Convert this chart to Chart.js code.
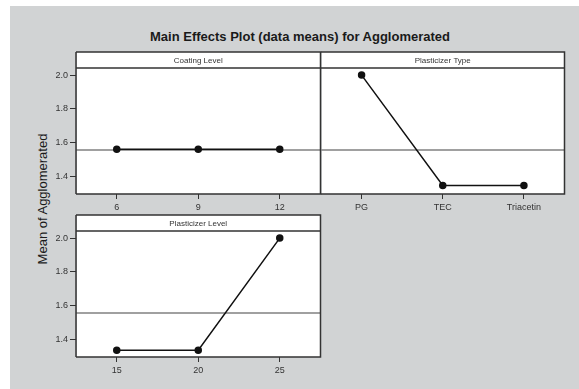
<!DOCTYPE html>
<html>
<head>
<meta charset="utf-8">
<script src="https://cdn.jsdelivr.net/npm/chart.js@4.4.1/dist/chart.umd.min.js"></script>
<style>
  html, body { margin: 0; padding: 0; background: #fff; }
  body { width: 579px; height: 389px; position: relative; overflow: hidden; font-family: "Liberation Sans", Arial, sans-serif; }
  #bg { position: absolute; left: 10px; top: 6px; width: 569px; height: 383px; background: #d1d3d4; }
  #title { position: absolute; left: 0; width: 600px; top: 29px; text-align: center; font-size: 13px; font-weight: bold; color: #1a1a1a; }
  #ylabel { position: absolute; left: 42px; top: 199px; transform: translate(-50%, -50%) rotate(-90deg); white-space: nowrap; font-size: 13px; color: #1a1a1a; }
  canvas { position: absolute; }
</style>
</head>
<body>
<div id="bg"></div>
<div id="title">Main Effects Plot (data means) for Agglomerated</div>
<div id="ylabel">Mean of Agglomerated</div>
<canvas id="coating"></canvas>
<canvas id="ptype"></canvas>
<canvas id="plevel"></canvas>
<script>
// dữ liệu
const coatingLevels = ['6', '9', '12'];
const coatingMeans = [1.56, 1.56, 1.56];
const plasticizerTypes = ['PG', 'TEC', 'Triacetin'];
const typeMeans = [2.0, 1.345, 1.345];
const plasticizerLevels = ['15', '20', '25'];
const levelMeans = [1.335, 1.335, 2.0];
const yTicks = [1.4, 1.6, 1.8, 2.0];
const grandMean = 1.556;
const yMin = 1.295, yMax = 2.042;

// khung vẽ
const PAD_L = 40, PAD_T = 20, PAD_R = 4, PAD_B = 24, STRIP_H = 16;

Chart.defaults.font.family = '"Liberation Sans", Arial, Helvetica, sans-serif';

const stripPlugin = {
    id: 'strip',
    beforeDraw(chart) {
        const { ctx, chartArea: a } = chart;
        ctx.save();
        ctx.fillStyle = '#fff';
        ctx.fillRect(a.left + 1, a.top - STRIP_H, a.width - 1, a.height + STRIP_H);
        ctx.restore();
    },
    beforeDatasetsDraw(chart) {
        const { ctx, chartArea: a, scales: { y } } = chart;
        const ym = y.getPixelForValue(grandMean);
        ctx.save();
        ctx.strokeStyle = '#808080';
        ctx.lineWidth = 1.3;
        ctx.beginPath();
        ctx.moveTo(a.left, ym);
        ctx.lineTo(a.right, ym);
        ctx.stroke();
        ctx.restore();
    },
    afterDraw(chart, args, opts) {
        const { ctx, chartArea: a } = chart;
        const top = a.top - STRIP_H;
        ctx.save();
        ctx.strokeStyle = '#333';
        ctx.lineWidth = 1.5;
        ctx.beginPath();
        // trái (bỏ qua nếu dùng chung cạnh với ô bên trái)
        if (!opts.sharedLeft) {
            ctx.moveTo(a.left, a.bottom);
            ctx.lineTo(a.left, top);
        }
        ctx.moveTo(a.left, top);
        ctx.lineTo(a.right, top);
        ctx.lineTo(a.right, a.bottom);
        ctx.lineTo(a.left, a.bottom);
        ctx.moveTo(a.left, a.top);
        ctx.lineTo(a.right, a.top);
        ctx.stroke();
        ctx.fillStyle = '#333';
        ctx.font = '8px "Liberation Sans", Arial, sans-serif';
        ctx.textAlign = 'center';
        ctx.textBaseline = 'middle';
        ctx.fillText(opts.title, (a.left + a.right) / 2, top + STRIP_H / 2 + 0.5);
        ctx.restore();
    }
};

function makePanel(id, box, labels, values, title, showY) {
    const canvas = document.getElementById(id);
    canvas.width = box.w + PAD_L + PAD_R;
    canvas.height = box.h + PAD_T + PAD_B;
    canvas.style.left = (box.x - PAD_L) + 'px';
    canvas.style.top = (box.y - PAD_T) + 'px';
    canvas.style.width = canvas.width + 'px';
    canvas.style.height = canvas.height + 'px';

    new Chart(canvas.getContext('2d'), {
        type: 'line',
        data: {
            labels: labels,
            datasets: [{
                data: values,
                borderColor: '#111',
                backgroundColor: '#111',
                borderWidth: 1.5,
                pointRadius: 3,
                pointHoverRadius: 3,
                tension: 0
            }]
        },
        options: {
            responsive: false,
            animation: false,
            devicePixelRatio: 1,
            layout: { padding: { top: PAD_T, right: PAD_R, left: 0, bottom: 0 } },
            plugins: {
                legend: { display: false },
                tooltip: { enabled: false },
                strip: { title: title, sharedLeft: !showY }
            },
            scales: {
                x: {
                    type: 'category',
                    offset: true,
                    grid: { display: true, drawOnChartArea: false, tickLength: 5, color: '#333' },
                    border: { display: false },
                    ticks: { color: '#333', font: { size: 9 }, padding: 3, maxRotation: 0 },
                    afterFit: s => { s.height = PAD_B; }
                },
                y: {
                    min: yMin,
                    max: yMax,
                    afterBuildTicks: s => { s.ticks = yTicks.map(v => ({ value: v })); },
                    grid: { display: showY, drawOnChartArea: false, tickLength: 6, color: '#333' },
                    border: { display: false },
                    ticks: { display: showY, color: '#333', font: { size: 9 }, padding: 2, callback: v => v.toFixed(1) },
                    afterFit: s => { s.width = PAD_L; }
                }
            }
        },
        plugins: [stripPlugin]
    });
}

makePanel('coating', { x: 76, y: 68, w: 245, h: 126 }, coatingLevels, coatingMeans, 'Coating Level', true);
makePanel('ptype', { x: 321, y: 68, w: 244, h: 126 }, plasticizerTypes, typeMeans, 'Plasticizer Type', false);
makePanel('plevel', { x: 76, y: 231, w: 245, h: 126 }, plasticizerLevels, levelMeans, 'Plasticizer Level', true);
</script>
</body>
</html>
